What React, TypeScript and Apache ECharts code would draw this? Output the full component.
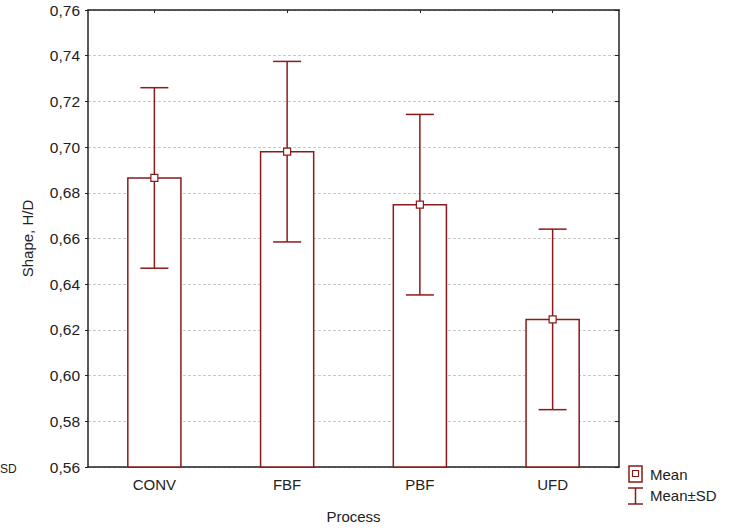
import React, { useEffect, useRef } from "react";
import * as echarts from "echarts";

const categories = ["CONV", "FBF", "PBF", "UFD"];
const means = [0.6865, 0.698, 0.6748, 0.6246];
const sds = [0.0395, 0.0395, 0.0395, 0.0395];
const yMin = 0.56;
const yMax = 0.76;
const yStep = 0.02;

const RED = "#8b1a1a";
const FONT = "Liberation Sans, Arial, sans-serif";

export default function App() {
  const ref = useRef<HTMLDivElement>(null);
  useEffect(() => {
    if (!ref.current) return;
    const chart = echarts.init(ref.current, undefined, { renderer: "svg" });
    const data = categories.map((c, i) => [i, means[i], means[i] - sds[i], means[i] + sds[i]]);
    const fmt = (v: number) => v.toFixed(2).replace(".", ",");
    chart.setOption({
      animation: false,
      backgroundColor: "#fff",
      grid: { left: 88, right: 125, top: 10, bottom: 64, show: false },
      xAxis: [
        {
          type: "category",
          data: categories,
          position: "bottom",
          boundaryGap: true,
          name: "Process",
          nameLocation: "middle",
          nameGap: 42,
          nameTextStyle: { fontFamily: FONT, fontSize: 15, color: "#222" },
          axisLine: { show: true, lineStyle: { color: "#222", width: 1.5 } },
          axisTick: { show: true, inside: true, alignWithLabel: true, length: 3, lineStyle: { color: "#222" } },
          axisLabel: { fontFamily: FONT, fontSize: 15, color: "#222", margin: 10 },
          splitLine: { show: false },
        },
        {
          type: "category",
          data: categories,
          position: "top",
          boundaryGap: true,
          axisLine: { show: true, lineStyle: { color: "#222", width: 1.5 } },
          axisTick: { show: true, inside: true, alignWithLabel: true, length: 3, lineStyle: { color: "#222" } },
          axisLabel: { show: false },
          splitLine: { show: false },
        },
      ],
      yAxis: [
        {
          type: "value",
          min: yMin,
          max: yMax,
          interval: yStep,
          position: "left",
          name: "Shape, H/D",
          nameLocation: "middle",
          nameGap: 53,
          nameTextStyle: { fontFamily: FONT, fontSize: 15, color: "#222" },
          axisLine: { show: true, lineStyle: { color: "#222", width: 1.5 } },
          axisTick: { show: true, inside: false, length: 3, lineStyle: { color: "#222" } },
          axisLabel: { fontFamily: FONT, fontSize: 15.5, color: "#222", margin: 8, formatter: fmt },
          splitLine: { show: true, lineStyle: { color: "#c8c8c8", type: [3, 2], width: 1 } },
        },
        {
          type: "value",
          min: yMin,
          max: yMax,
          interval: yStep,
          position: "right",
          axisLine: { show: true, lineStyle: { color: "#222", width: 1.5 } },
          axisTick: { show: true, inside: true, length: 4, lineStyle: { color: "#222" } },
          axisLabel: { show: false },
          splitLine: { show: false },
        },
      ],
      series: [
        {
          type: "custom",
          xAxisIndex: 0,
          yAxisIndex: 0,
          data,
          encode: { x: 0, y: [1, 2, 3] },
          renderItem: (params: any, api: any) => {
            const i = api.value(0);
            const m = api.value(1);
            const lo = api.value(2);
            const hi = api.value(3);
            const band = api.size([1, 0])[0];
            const bw = band * 0.4;
            const top = api.coord([i, m]);
            const base = api.coord([i, yMin]);
            const pLo = api.coord([i, lo]);
            const pHi = api.coord([i, hi]);
            const cx = top[0];
            const capW = 28;
            const ls = { stroke: RED, lineWidth: 1.5, fill: null };
            return {
              type: "group",
              children: [
                {
                  type: "rect",
                  shape: { x: cx - bw / 2, y: top[1], width: bw, height: base[1] - top[1] },
                  style: { fill: "#fff", stroke: RED, lineWidth: 1.5 },
                },
                { type: "line", shape: { x1: cx, y1: pHi[1], x2: cx, y2: pLo[1] }, style: ls },
                { type: "line", shape: { x1: cx - capW / 2, y1: pHi[1], x2: cx + capW / 2, y2: pHi[1] }, style: ls },
                { type: "line", shape: { x1: cx - capW / 2, y1: pLo[1], x2: cx + capW / 2, y2: pLo[1] }, style: ls },
                {
                  type: "rect",
                  shape: { x: cx - 3.5, y: top[1] - 3.5, width: 7, height: 7 },
                  style: { fill: "#fff", stroke: RED, lineWidth: 1.2 },
                },
              ],
            };
          },
        },
      ],
      graphic: [
        { type: "text", left: 0, top: 463, style: { text: "SD", fontFamily: FONT, fontSize: 12, fill: "#222" } },
        { type: "rect", shape: { x: 629, y: 466, width: 13, height: 16 }, style: { fill: "#fff", stroke: RED, lineWidth: 1.5 } },
        { type: "rect", shape: { x: 632.5, y: 470.5, width: 6, height: 6 }, style: { fill: "#fff", stroke: RED, lineWidth: 1.2 } },
        { type: "text", x: 650, y: 474, style: { text: "Mean", fontFamily: FONT, fontSize: 15, fill: "#222", verticalAlign: "middle" } },
        { type: "line", shape: { x1: 635.5, y1: 488, x2: 635.5, y2: 504 }, style: { stroke: RED, lineWidth: 1.5 } },
        { type: "line", shape: { x1: 628, y1: 488, x2: 643, y2: 488 }, style: { stroke: RED, lineWidth: 1.5 } },
        { type: "line", shape: { x1: 628, y1: 504, x2: 643, y2: 504 }, style: { stroke: RED, lineWidth: 1.5 } },
        { type: "text", x: 650, y: 495, style: { text: "Mean±SD", fontFamily: FONT, fontSize: 15, fill: "#222", verticalAlign: "middle" } },
      ],
    });
    return () => chart.dispose();
  }, []);
  return <div ref={ref} style={{ width: 744, height: 531, position: "absolute", left: 0, top: 0 }} />;
}
